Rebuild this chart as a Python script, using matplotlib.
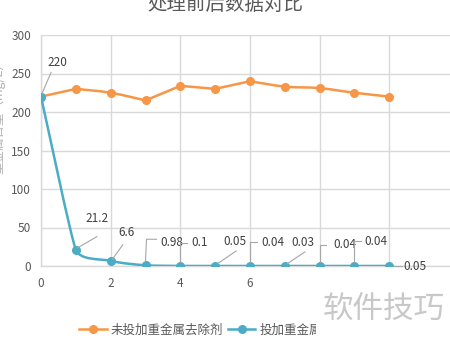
import numpy as np
import matplotlib
matplotlib.use("Agg")
import matplotlib.pyplot as plt
from matplotlib.path import Path
from matplotlib.patches import PathPatch, Rectangle
from matplotlib.lines import Line2D
from matplotlib.transforms import IdentityTransform

plt.rcParams['font.family'] = ['Noto Sans CJK SC', 'DejaVu Sans']

# ---------------- data ----------------
days = [0, 1, 2, 3, 4, 5, 6, 7, 8, 9, 10]
untreated = [220, 230, 225, 215, 234, 230, 240, 233, 231, 225, 220]
treated = [220, 21.2, 6.6, 0.98, 0.1, 0.05, 0.04, 0.03, 0.04, 0.04, 0.05]
treated_labels = ["220", "21.2", "6.6", "0.98", "0.1", "0.05", "0.04", "0.03", "0.04", "0.04", "0.05"]
series_names = ["未投加重金属去除剂", "投加重金属去除剂"]
x_ticks = [0, 2, 4, 6, 8, 10, 12]
x_ticklabels = ["0", "2", "4", "6", "8", "10", ""]

ORANGE = "#F79646"
BLUE = "#4BACC6"
GRID = "#d9d9d9"
TXT = "#595959"

# label placement: leader vertices and text offset (pixels from the point)
label_layout = [
    ([(1, 3), (10, 24)], (6, 34), "left"),
    ([(2, 2), (21, 13)], (21, 31), "center"),
    ([(2, 2), (12, 16)], (16, 28), "center"),
    ([(0, 4), (1, 26), (11, 26)], (15, 23), "left"),
    ([(0, 4), (0, 23), (7, 23)], (11, 23), "left"),
    ([(2, 2), (21, 15)], (20, 24), "center"),
    ([(0, 4), (0, 24), (7, 24)], (11, 23), "left"),
    ([(2, 2), (20, 14)], (18, 23), "center"),
    ([(0, 4), (0, 21), (6, 21)], (14, 21), "left"),
    ([(0, 4), (0, 25), (7, 25)], (10, 24), "left"),
    ([(4, 0), (13, 0)], (14, -1), "left"),
]


def smooth_path(xs, ys):
    # smoothed line as cubic bezier segments, tangents limited so the
    # curve never swings past the neighbouring points
    pts = np.column_stack([xs, ys]).astype(float)
    n = len(pts)
    tang = []
    for i in range(n):
        t = (pts[min(i + 1, n - 1)] - pts[max(i - 1, 0)]) / 6.0
        s = 1.0
        for j, sign in [(i + 1, 1), (i - 1, -1)]:
            if 0 <= j < n and t[1] != 0:
                lo = min(pts[i][1], pts[j][1])
                hi = max(pts[i][1], pts[j][1])
                y = pts[i][1] + sign * t[1]
                if y > hi:
                    s = min(s, (hi - pts[i][1]) / (sign * t[1]))
                elif y < lo:
                    s = min(s, (lo - pts[i][1]) / (sign * t[1]))
        tang.append(t * max(s, 0.0))
    verts = [pts[0]]
    codes = [Path.MOVETO]
    for i in range(n - 1):
        verts += [pts[i] + tang[i], pts[i + 1] - tang[i + 1], pts[i + 1]]
        codes += [Path.CURVE4] * 3
    return Path(verts, codes)


fig = plt.figure(figsize=(4.5, 3.43), dpi=100)
ax = fig.add_axes([41 / 450, 77 / 343, 418 / 450, 231 / 343])
ax.set_xlim(0, 12)
ax.set_ylim(0, 300)
ax.set_xticks(x_ticks, x_ticklabels)
ax.set_yticks(range(0, 301, 50))
ax.grid(True, color=GRID, lw=1)
ax.set_axisbelow(True)
for s in ["top", "right"]:
    ax.spines[s].set_visible(False)
for s in ["left", "bottom"]:
    ax.spines[s].set_color(GRID)
    ax.spines[s].set_linewidth(1)
ax.tick_params(length=0, labelsize=8.5, labelcolor=TXT)
ax.tick_params(axis="y", pad=7)
ax.tick_params(axis="x", pad=8)

# smoothed lines + markers
for ys, col, z in [(untreated, ORANGE, 3), (treated, BLUE, 4)]:
    ax.add_patch(PathPatch(smooth_path(days, ys), fill=False, edgecolor=col, lw=1.8, zorder=z))
    ax.plot(days, ys, ls="none", marker="o", ms=5.5, color=col, zorder=z + 0.5)

# data labels with leader lines
fig.canvas.draw()
for x, y, lab, (leader, toff, ha) in zip(days, treated, treated_labels, label_layout):
    px, py = ax.transData.transform((x, y))
    lx = [px + dx for dx, dy in leader]
    ly = [py + dy for dx, dy in leader]
    fig.add_artist(Line2D(lx, ly, transform=IdentityTransform(), color="#a6a6a6", lw=0.8, zorder=5))
    ax.annotate(lab, xy=(x, y), xytext=toff, textcoords="offset pixels",
                ha=ha, va="center", fontsize=8.5, color="#404040", zorder=6,
                annotation_clip=False)

# title and axis title
fig.text(225 / 450, 1 - 4 / 343, "处理前后数据对比", ha="center", va="center",
         fontsize=14, color=TXT)
fig.text(-2 / 450, 1 - 115 / 343, "重金属含量（mg/L）", ha="center", va="center",
         rotation=90, fontsize=9, color="#b0b0b0")

# legend
handles = [Line2D([], [], color=ORANGE, lw=1.8, marker="o", ms=5.5),
           Line2D([], [], color=BLUE, lw=1.8, marker="o", ms=5.5)]
fig.legend(handles, series_names, loc="center left", bbox_to_anchor=(79 / 450, 1 - 330 / 343),
           ncol=2, frameon=False, fontsize=9, handlelength=2.2, handletextpad=0.35,
           columnspacing=0.35, borderpad=0, borderaxespad=0, labelcolor=TXT)

# watermark block
fig.add_artist(Rectangle((316 / 450, 0), 1 - 316 / 450, 71 / 343, transform=fig.transFigure,
                         facecolor="white", edgecolor="none", zorder=20))
fig.text(384 / 450, 1 - 310 / 343, "软件技巧", ha="center", va="center",
         fontsize=22, color="#c8c8c8", zorder=21)

fig.savefig("out.png", dpi=100)
